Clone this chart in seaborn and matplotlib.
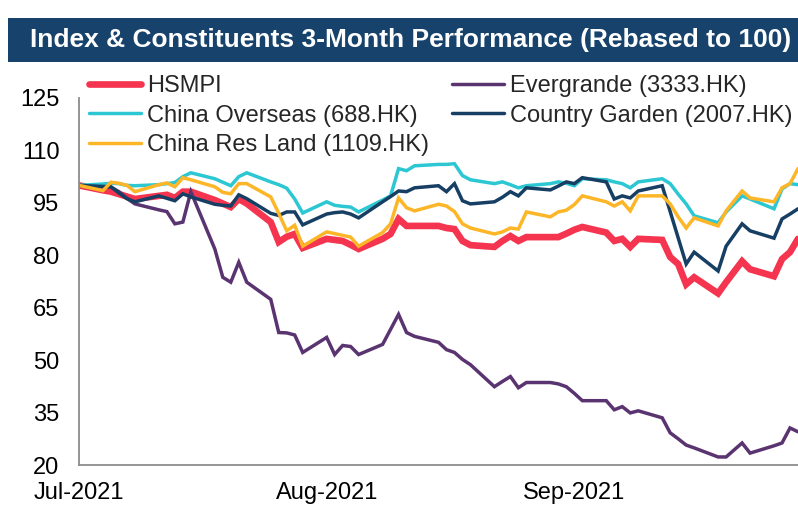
import matplotlib
matplotlib.use("Agg")
import matplotlib.pyplot as plt
from matplotlib.patches import Rectangle
import pandas as pd
import seaborn as sns

# HK trading days, Jul-Sep 2021
dates = [
    "2021-07-02", "2021-07-05", "2021-07-06", "2021-07-07", "2021-07-08", "2021-07-09",
    "2021-07-12", "2021-07-13", "2021-07-14", "2021-07-15", "2021-07-16",
    "2021-07-19", "2021-07-20", "2021-07-21", "2021-07-22", "2021-07-23",
    "2021-07-26", "2021-07-27", "2021-07-28", "2021-07-29", "2021-07-30",
    "2021-08-02", "2021-08-03", "2021-08-04", "2021-08-05", "2021-08-06",
    "2021-08-09", "2021-08-10", "2021-08-11", "2021-08-12", "2021-08-13",
    "2021-08-16", "2021-08-17", "2021-08-18", "2021-08-19", "2021-08-20",
    "2021-08-23", "2021-08-24", "2021-08-25", "2021-08-26", "2021-08-27",
    "2021-08-30", "2021-08-31", "2021-09-01", "2021-09-02", "2021-09-03",
    "2021-09-06", "2021-09-07", "2021-09-08", "2021-09-09", "2021-09-10",
    "2021-09-13", "2021-09-14", "2021-09-15", "2021-09-16", "2021-09-17",
    "2021-09-20", "2021-09-21", "2021-09-23", "2021-09-24",
    "2021-09-27", "2021-09-28", "2021-09-29", "2021-09-30",
]

hsmpi = [
    100, 98.6, 98.2, 97.5, 96.8, 96.1, 97.0, 97.3, 96.4, 98.2, 98.2,
    95.8, 94.8, 93.8, 96.1, 94.8, 89.5, 83.8, 85.3, 86.1, 82.1,
    84.7, 84.4, 84.1, 83.0, 81.8, 84.7, 86.1, 90.4, 88.4, 88.4,
    88.4, 87.8, 87.5, 84.1, 82.9, 82.4, 84.1, 85.5, 84.1, 85.2,
    85.2, 85.2, 86.2, 87.3, 88.1, 86.5, 84.1, 84.7, 82.4, 84.7,
    84.4, 79.5, 77.5, 71.7, 73.7, 69.1, 72.3, 78.3, 76.0,
    74.0, 78.9, 80.9, 84.7,
]
evergrande = [
    100, 99.6, 99.5, 98.2, 96.3, 94.7, 93.0, 92.5, 89.0, 89.5, 98.2,
    81.8, 73.7, 72.3, 78.0, 72.3, 67.4, 57.9, 57.8, 57.2, 52.2,
    56.5, 51.6, 54.2, 53.9, 51.6, 54.5, 58.8, 63.1, 57.9, 56.8,
    55.1, 53.0, 52.2, 50.2, 48.7, 42.4, 43.9, 45.3, 42.1, 43.6,
    43.6, 43.2, 42.4, 40.5, 38.4, 38.4, 35.8, 36.7, 34.9, 35.5,
    33.5, 29.2, 27.5, 25.7, 24.9, 22.3, 22.3, 26.3, 23.4,
    25.5, 26.3, 30.6, 29.5,
]
china_overseas = [
    100, 100.4, 100.6, 100.5, 100.0, 99.9, 100.2, 100.5, 100.8, 102.5, 103.6,
    101.9, 100.9, 99.9, 102.5, 103.6, 101.0, 100.2, 99.2, 96.1, 92.1,
    95.3, 94.3, 94.0, 93.8, 92.4, 95.8, 97.0, 104.8, 104.2, 105.6,
    106.0, 106.0, 106.2, 102.8, 101.6, 100.5, 101.0, 100.2, 99.3, 99.9,
    100.5, 101.0, 100.6, 99.9, 101.9, 101.6, 101.0, 100.5, 99.3, 101.0,
    101.9, 100.5, 97.5, 94.7, 91.3, 89.3, 92.4, 97.0, 96.1,
    93.3, 99.0, 100.5, 100.2,
]
country_garden = [
    100, 99.7, 99.6, 97.8, 96.2, 95.3, 97.0, 96.3, 95.6, 97.6, 96.7,
    94.6, 94.3, 94.1, 97.3, 96.2, 92.0, 91.4, 92.4, 92.4, 88.7,
    91.8, 92.2, 92.4, 91.8, 90.7, 95.3, 96.8, 98.4, 98.2, 99.3,
    99.9, 98.2, 100.5, 95.6, 94.7, 95.3, 96.6, 98.2, 97.0, 99.3,
    98.7, 99.8, 101.0, 100.5, 102.2, 101.0, 96.1, 97.0, 96.4, 98.4,
    99.9, 92.5, 85.0, 77.5, 80.9, 75.5, 82.6, 89.0, 87.0,
    84.9, 90.4, 91.8, 93.3,
]
china_res_land = [
    100, 98.5, 100.9, 100.6, 100.0, 98.2, 100.2, 100.7, 99.6, 102.2, 101.6,
    99.6, 98.0, 97.6, 100.5, 100.5, 96.7, 92.0, 87.0, 88.6, 82.6,
    86.7, 86.2, 85.7, 85.2, 82.6, 86.5, 89.0, 96.4, 93.6, 92.7,
    94.6, 94.1, 92.5, 89.0, 87.8, 86.1, 86.7, 87.8, 87.5, 92.4,
    91.0, 92.4, 92.9, 94.5, 97.0, 95.3, 94.1, 95.3, 92.7, 97.0,
    97.0, 94.7, 91.0, 87.8, 90.7, 88.4, 92.7, 98.4, 96.4,
    95.3, 99.3, 100.5, 104.8,
]

series_names = ["HSMPI", "Evergrande (3333.HK)", "China Overseas (688.HK)",
                "Country Garden (2007.HK)", "China Res Land (1109.HK)"]
series_values = [hsmpi, evergrande, china_overseas, country_garden, china_res_land]
colors = ["#F5344F", "#5A3470", "#2CC7D2", "#173F63", "#FDB628"]
widths = [4.8, 2.5, 2.5, 2.5, 2.5]

y_ticks = [20, 35, 50, 65, 80, 95, 110, 125]
x_ticks = ["2021-07-02", "2021-08-02", "2021-09-02"]
x_labels = ["Jul-2021", "Aug-2021", "Sep-2021"]
title = "Index & Constituents 3-Month Performance (Rebased to 100)"

sns.set_theme(style="white")
plt.rcParams["font.family"] = ["Liberation Sans", "DejaVu Sans"]

fig = plt.figure(figsize=(7.98, 5.07), dpi=100)

# title band
fig.patches.append(Rectangle((8 / 798, 1 - 62 / 507), 1 - 8 / 798, 44 / 507,
                             transform=fig.transFigure, facecolor="#17426B",
                             edgecolor="none", zorder=0))
fig.text(30 / 798, 1 - 40 / 507, title, color="white", fontsize=19,
         fontweight="bold", ha="left", va="center")

ax = fig.add_axes([79 / 798, 1 - 465 / 507, (798 - 79) / 798, (465 - 98) / 507])

x = pd.to_datetime(dates)
for name, vals, c, lw in zip(series_names, series_values, colors, widths):
    sns.lineplot(x=x, y=vals, ax=ax, color=c, linewidth=lw, label=name,
                 legend=False, solid_joinstyle="miter")

ax.set_xlim(pd.Timestamp("2021-07-02"), pd.Timestamp("2021-09-30"))
ax.set_ylim(20, 125)
ax.set_yticks(y_ticks)
ax.set_xticks(pd.to_datetime(x_ticks))
ax.set_xticklabels(x_labels)
ax.set_xlabel("")
ax.set_ylabel("")

for side in ["top", "right"]:
    ax.spines[side].set_visible(False)
for side in ["left", "bottom"]:
    ax.spines[side].set_color("#8C8C8C")
    ax.spines[side].set_linewidth(1.3)
ax.tick_params(axis="both", direction="out", length=6, width=1.2,
               color="#8C8C8C", labelsize=17, labelcolor="black")
ax.tick_params(axis="y", pad=8)
ax.tick_params(axis="x", pad=6)

lines = ax.get_lines()
order = [0, 2, 4, 1, 3]
ax.legend([lines[i] for i in order], [series_names[i] for i in order],
          loc="upper left", bbox_to_anchor=(89 / 798, 1 - 75 / 507),
          bbox_transform=fig.transFigure, ncol=2, frameon=False,
          fontsize=17, handlelength=2.2, handletextpad=0.25,
          columnspacing=1.0, labelspacing=0.32, borderpad=0, borderaxespad=0)

fig.savefig("out.png", dpi=100)
